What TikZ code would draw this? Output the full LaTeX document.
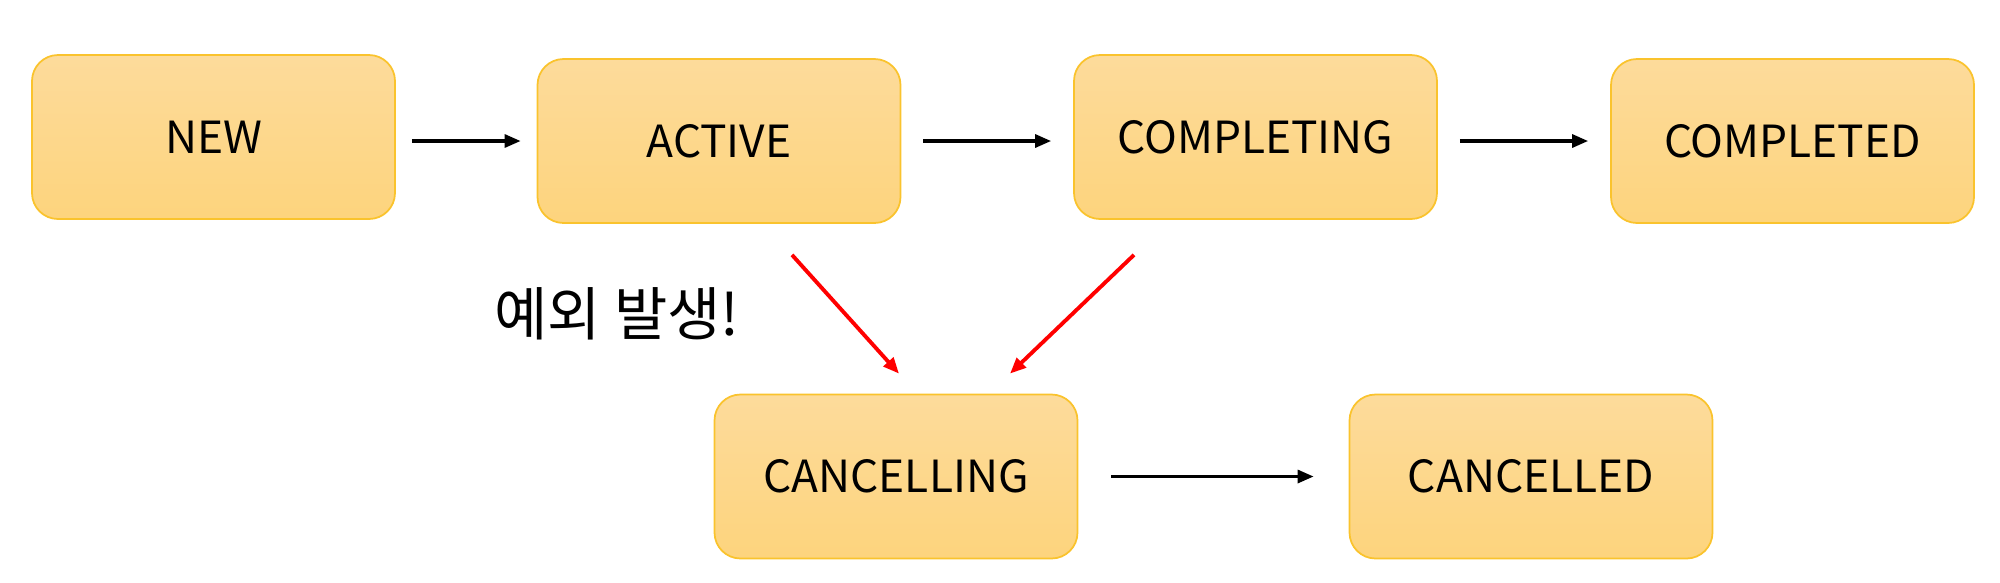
\documentclass[tikz,border=0pt]{standalone}
\usepackage{fontspec}
\setmainfont{Noto Sans CJK KR}
\usepackage{tikz}
\usetikzlibrary{positioning,arrows.meta}
\definecolor{boxtop}{RGB}{253,219,155}
\definecolor{boxbottom}{RGB}{253,212,125}
\definecolor{boxline}{RGB}{250,195,45}
\tikzset{%
	state/.style={
		rectangle,
		rounded corners=0.26cm,
		draw=boxline,
		line width=0.5pt,
		top color=boxtop,
		bottom color=boxbottom,
		minimum width=3.63cm,
		minimum height=1.64cm,
		font=\fontsize{12.6}{15}\selectfont
	},
	flow/.style={ ->, line width=0.9pt, shorten <=0.22cm, shorten >=0.22cm },
	fail/.style={ ->, draw=red, line width=1.1pt },
}

\begin{document}
\begin{tikzpicture}[x=1cm, y=1cm, >={Triangle[length=0.16cm,width=0.13cm]}]
\useasboundingbox (0,0) rectangle (20,-5.82);
% states
\foreach \s/\t/\x/\y in {new/NEW/2.135/-1.37, active/ACTIVE/7.19/-1.41, completing/COMPLETING/12.555/-1.37, completed/COMPLETED/17.925/-1.41, cancelling/CANCELLING/8.96/-4.765, cancelled/CANCELLED/15.31/-4.765}
	\node[state] (\s) at (\x,\y) {\t};

% exception label
\node[font=\fontsize{16.5}{20}\selectfont] (error) at (6.17,-3.14) {예외 발생!};

% normal flow
\draw[flow, shorten <=0.16cm, shorten >=0.16cm] (active.west -| new.east) -- (active.west);
\draw[flow] (active.east) -- (active.east -| completing.west);
\draw[flow] (completed.west -| completing.east) -- (completed.west);
\draw[flow, shorten <=0.33cm, shorten >=0.35cm] (cancelling.east) -- (cancelled.west);

% exception flow
\coordinate (fail-active) at ([xshift=0.73cm,yshift=-0.31cm]active.south);
\coordinate (fail-completing) at ([xshift=-1.215cm,yshift=-0.35cm]completing.south);
\coordinate (cancel-left) at ([xshift=0.03cm,yshift=0.2cm]cancelling.north);
\coordinate (cancel-right) at ([xshift=1.14cm,yshift=0.2cm]cancelling.north);
\draw[fail] (fail-active) -- (cancel-left);
\draw[fail] (fail-completing) -- (cancel-right);

\end{tikzpicture}
\end{document}
